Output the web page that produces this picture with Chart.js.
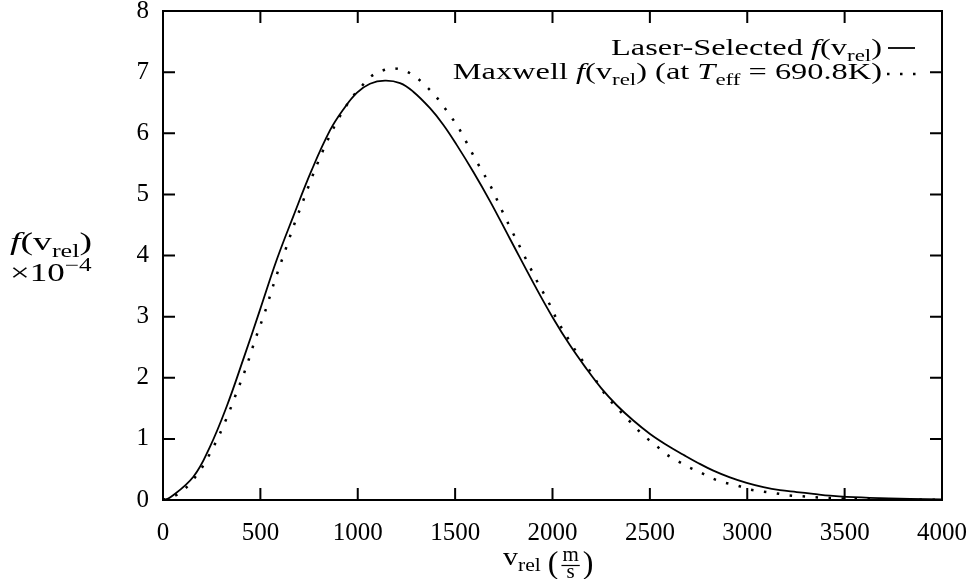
<!DOCTYPE html>
<html>
<head>
<meta charset="utf-8">
<script src="https://cdn.jsdelivr.net/npm/chart.js@4.4.0/dist/chart.umd.min.js"></script>
<style>
html, body { margin: 0; padding: 0; background: #fff; }
#wrap { width: 970px; height: 579px; position: relative; }
</style>
</head>
<body>
<div id="wrap"><canvas id="chart" width="970" height="579"></canvas></div>
<script>
// relative velocity (m/s) and f(v_rel) x 10^-4
var laserV = [0, 36, 156, 241, 327, 412, 498, 584, 669, 764, 858, 926, 995, 1063, 1140, 1217, 1285, 1371, 1439, 1508, 1593, 1679, 1782, 1919, 2004, 2090, 2176, 2250, 2330, 2415, 2501, 2586, 2672, 2745, 2826, 2911, 2997, 3083, 3168, 3254, 3339, 3425, 3511, 3682, 3836, 4000]
var laserF = [0, 0.04, 0.38, 0.87, 1.53, 2.30, 3.11, 3.93, 4.64, 5.40, 6.05, 6.39, 6.66, 6.81, 6.86, 6.82, 6.68, 6.41, 6.14, 5.81, 5.37, 4.89, 4.27, 3.45, 2.97, 2.53, 2.14, 1.83, 1.55, 1.30, 1.08, 0.90, 0.74, 0.61, 0.48, 0.37, 0.28, 0.21, 0.16, 0.13, 0.10, 0.07, 0.05, 0.03, 0.02, 0.01]

var maxwellV = [0, 67, 118, 164, 202, 238, 284, 332, 377, 428, 474, 525, 572, 623, 675, 705, 790, 883, 969, 1015, 1060, 1114, 1183, 1251, 1306, 1357, 1402, 1445, 1486, 1521, 1552, 1583, 1619, 1686, 1734, 1773, 1833, 1881, 1927, 1984, 2021, 2086, 2127, 2168, 2206, 2240, 2281, 2328, 2374, 2420, 2471, 2523, 2574, 2631, 2692, 2754, 2816, 2877, 2944, 3009, 3077, 3146, 3211, 3283, 3349, 3416, 3500, 3700, 3900, 4000]
var maxwellF = [0, 0.08, 0.20, 0.37, 0.54, 0.74, 1.03, 1.38, 1.75, 2.18, 2.63, 3.09, 3.57, 4.04, 4.52, 4.77, 5.48, 6.13, 6.58, 6.75, 6.91, 7.01, 7.06, 7.01, 6.90, 6.75, 6.60, 6.42, 6.24, 6.07, 5.89, 5.70, 5.49, 5.11, 4.78, 4.52, 4.14, 3.83, 3.54, 3.21, 2.96, 2.61, 2.40, 2.22, 2.05, 1.87, 1.68, 1.52, 1.36, 1.21, 1.04, 0.92, 0.77, 0.66, 0.55, 0.46, 0.36, 0.29, 0.24, 0.175, 0.14, 0.11, 0.077, 0.06, 0.044, 0.033, 0.025, 0.012, 0.006, 0.004]

var xTicks = [0, 500, 1000, 1500, 2000, 2500, 3000, 3500, 4000]
var yTicks = [0, 1, 2, 3, 4, 5, 6, 7, 8]

var SERIF = '"Liberation Serif", "Times New Roman", serif'
var TICK_FS = 25
var FS = 24
var SX = 1.35   // the TeX text in the original is wide, Liberation is narrow

function fontFor(style, size) {
    if (style == "i") return "italic " + size + "px " + SERIF
    if (style == "sub" || style == "sup") return Math.round(size * 0.7) + "px " + SERIF
    return size + "px " + SERIF
}

function runsWidth(ctx, runs, size) {
    var w = 0
    runs.forEach(function (r) {
        ctx.font = fontFor(r[1], size)
        w += ctx.measureText(r[0]).width
    })
    return w
}

// draw a row of text pieces, some italic / subscript / superscript
function drawRuns(ctx, runs, x, y, size, align, sx) {
    sx = sx || 1
    var w = runsWidth(ctx, runs, size) * sx
    var x0 = align == "right" ? x - w : (align == "center" ? x - w / 2 : x)
    ctx.save()
    ctx.translate(x0, y)
    ctx.scale(sx, 1)
    ctx.textAlign = "left"
    ctx.textBaseline = "alphabetic"
    var cx = 0
    runs.forEach(function (r) {
        ctx.font = fontFor(r[1], size)
        var dy = r[1] == "sub" ? size * 0.25 : (r[1] == "sup" ? -size * 0.42 : 0)
        ctx.fillText(r[0], cx, dy)
        cx += ctx.measureText(r[0]).width
    })
    ctx.restore()
    return w
}

var laserLabel = [["Laser-Selected ", "n"], ["f", "i"], ["(v", "n"], ["rel", "sub"], [")", "n"]]
var maxwellLabel = [["Maxwell ", "n"], ["f", "i"], ["(v", "n"], ["rel", "sub"], [") (at ", "n"], ["T", "i"], ["eff", "sub"], [" = 690.8K)", "n"]]
var yTitle1 = [["f", "i"], ["(v", "n"], ["rel", "sub"], [")", "n"]]
var yTitle2 = [["\u00d710", "n"], ["\u22124", "sup"]]

var dotDash = [2.5, 10.5]

var framePlugin = {
    id: "frame",
    afterDatasetsDraw: function (chart) {
        var ctx = chart.ctx
        var a = chart.chartArea
        var xs = chart.scales.x, ys = chart.scales.y
        ctx.save()
        ctx.strokeStyle = "#000"
        ctx.lineWidth = 2
        ctx.setLineDash([])
        ctx.strokeRect(a.left, a.top, a.right - a.left, a.bottom - a.top)
        // inward ticks on all four sides
        var tl = 12
        ctx.beginPath()
        xTicks.forEach(function (v) {
            var px = xs.getPixelForValue(v)
            ctx.moveTo(px, a.bottom); ctx.lineTo(px, a.bottom - tl)
            ctx.moveTo(px, a.top); ctx.lineTo(px, a.top + tl)
        })
        yTicks.forEach(function (v) {
            var py = ys.getPixelForValue(v)
            ctx.moveTo(a.left, py); ctx.lineTo(a.left + tl, py)
            ctx.moveTo(a.right, py); ctx.lineTo(a.right - tl, py)
        })
        ctx.stroke()

        ctx.fillStyle = "#000"
        // legend
        drawRuns(ctx, laserLabel, 882, 55, FS, "right", SX)
        drawRuns(ctx, maxwellLabel, 882, 79, FS, "right", SX)
        ctx.lineWidth = 1.8
        ctx.beginPath(); ctx.moveTo(888, 48); ctx.lineTo(915, 48); ctx.stroke()
        ctx.lineWidth = 2.5
        ctx.setLineDash(dotDash)
        ctx.beginPath(); ctx.moveTo(887, 74); ctx.lineTo(917, 74); ctx.stroke()
        ctx.setLineDash([])

        // y axis title
        drawRuns(ctx, yTitle1, 10, 250, 26, "left", 1.45)
        drawRuns(ctx, yTitle2, 10, 281, 25, "left", 1.4)

        // x axis title: v_rel (m/s)
        var x0 = 503, base = 565
        var w = drawRuns(ctx, [["v", "n"], ["rel", "sub"]], x0, base, TICK_FS, "left", 1.2)
        var cx = x0 + w + 7
        ctx.font = fontFor("n", 32)
        ctx.textAlign = "left"
        ctx.fillText("(", cx, 573)
        cx += ctx.measureText("(").width + 3
        ctx.font = fontFor("n", 21)
        var fw = ctx.measureText("m").width + 2
        ctx.textAlign = "center"
        ctx.fillText("m", cx + fw / 2, 561)
        ctx.fillText("s", cx + fw / 2, 578)
        ctx.lineWidth = 1.2
        ctx.beginPath(); ctx.moveTo(cx, 565.5); ctx.lineTo(cx + fw, 565.5); ctx.stroke()
        ctx.textAlign = "left"
        cx += fw + 3
        ctx.font = fontFor("n", 32)
        ctx.fillText(")", cx, 573)
        ctx.restore()
    }
}

function pts(xs, ys) {
    return xs.map(function (v, i) { return { x: v, y: ys[i] } })
}

var config = {
    type: "line",
    data: {
        datasets: [
            {
                label: "Laser-Selected",
                data: pts(laserV, laserF),
                borderColor: "#000",
                borderWidth: 1.8,
                pointRadius: 0,
                tension: 0.4,
                fill: false
            },
            {
                label: "Maxwell",
                data: pts(maxwellV, maxwellF),
                borderColor: "#000",
                borderWidth: 2.5,
                borderDash: dotDash,
                borderCapStyle: "butt",
                pointRadius: 0,
                cubicInterpolationMode: "monotone",
                fill: false
            }
        ]
    },
    options: {
        responsive: false,
        animation: false,
        devicePixelRatio: 1,
        layout: { padding: { top: 11, right: 28, left: 0, bottom: 0 } },
        scales: {
            x: {
                type: "linear",
                min: 0,
                max: 4000,
                afterBuildTicks: function (s) { s.ticks = xTicks.map(function (v) { return { value: v } }) },
                afterFit: function (s) { s.height = 79; s.paddingLeft = 0; s.paddingRight = 0 },
                ticks: {
                    color: "#000", padding: 18, maxRotation: 0,
                    font: { family: SERIF, size: TICK_FS },
                    callback: function (v) { return String(v) }
                },
                grid: { display: false, drawTicks: false },
                border: { display: false }
            },
            y: {
                min: 0,
                max: 8,
                afterBuildTicks: function (s) { s.ticks = yTicks.map(function (v) { return { value: v } }) },
                afterFit: function (s) { s.width = 163; s.paddingTop = 0; s.paddingBottom = 0 },
                ticks: {
                    color: "#000", padding: 14,
                    font: { family: SERIF, size: TICK_FS },
                    callback: function (v) { return String(v) }
                },
                grid: { display: false, drawTicks: false },
                border: { display: false }
            }
        },
        plugins: {
            legend: { display: false },
            tooltip: { enabled: false }
        }
    },
    plugins: [framePlugin]
}

var chart = new Chart(document.getElementById("chart"), config)
</script>
</body>
</html>
